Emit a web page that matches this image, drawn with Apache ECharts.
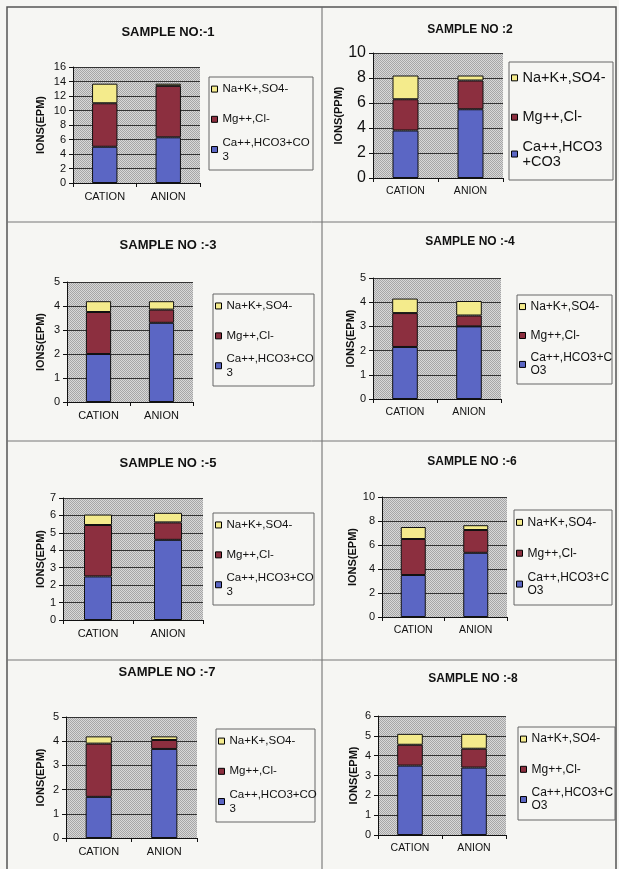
<!DOCTYPE html>
<html>
<head>
<meta charset="utf-8">
<script src="https://cdn.jsdelivr.net/npm/echarts@6/dist/echarts.min.js"></script>
<style>
html,body{margin:0;padding:0;background:#f6f6f3;}
#c{width:619px;height:869px;}
</style>
</head>
<body>
<div id="c"></div>
<script>
// ---- data ----
const sampleTitles = ['SAMPLE NO:-1','SAMPLE NO :2','SAMPLE NO :-3','SAMPLE NO :-4','SAMPLE NO :-5','SAMPLE NO :-6','SAMPLE NO :-7','SAMPLE NO :-8'];
const categories = ['CATION','ANION'];
const seriesNames = ['Ca++,HCO3+CO3','Mg++,Cl-','Na+K+,SO4-'];
const caHco3Values = [[5.0,6.3],[3.8,5.5],[2.0,3.3],[2.15,3.0],[2.5,4.6],[3.5,5.35],[1.7,3.68],[3.5,3.4]];
const mgClValues   = [[6.0,7.1],[2.5,2.3],[1.75,0.55],[1.4,0.45],[2.95,1.0],[3.0,1.9],[2.2,0.37],[1.05,0.95]];
const naSo4Values  = [[2.7,0.3],[1.9,0.4],[0.45,0.35],[0.6,0.6],[0.6,0.55],[1.0,0.4],[0.3,0.15],[0.55,0.75]];
const yMaxValues = [16,10,5,5,7,10,5,6];
const yIntervals = [2,2,1,1,1,2,1,1];
const yAxisTitles = ['IONS(EPM)','IONS(PPM)','IONS(EPM)','IONS(EPM)','IONS(EPM)','IONS(EPM)','IONS(EPM)','IONS(EPM)'];
const caLegendLines = [['Ca++,HCO3+CO','3'],['Ca++,HCO3','+CO3'],['Ca++,HCO3+CO','3'],['Ca++,HCO3+C','O3'],
                       ['Ca++,HCO3+CO','3'],['Ca++,HCO3+C','O3'],['Ca++,HCO3+CO','3'],['Ca++,HCO3+C','O3']];

// ---- layout (page pixels) ----
const panels = [
 {grid:[73,67,127,116],  box:[209,77,313,170],  title:[168,32],  nameX:40,  tick:11, leg:11.5, lh:14, cat:11,   tfs:13},
 {grid:[373,53,130,125], box:[509,62,613,180],  title:[470,30],  nameX:342, tick:16, leg:14.5, lh:15, cat:10.5, tfs:12},
 {grid:[67,282,126,120], box:[213,294,314,386], title:[168,245], nameX:40,  tick:11, leg:11.5, lh:14, cat:11,   tfs:13},
 {grid:[373,278,128,121],box:[517,295,612,384], title:[470,242], nameX:353, tick:11, leg:12,   lh:13, cat:10.5, tfs:12},
 {grid:[63,498,140,122], box:[213,513,314,605], title:[168,463], nameX:40,  tick:11, leg:11.5, lh:14, cat:11,   tfs:13},
 {grid:[382,497,125,120],box:[514,510,612,605], title:[472,462], nameX:353, tick:11, leg:12,   lh:13, cat:10.5, tfs:12},
 {grid:[66,717,131,121], box:[216,729,315,822], title:[167,672], nameX:40,  tick:11, leg:11.5, lh:14, cat:11,   tfs:13},
 {grid:[378,716,128,119],box:[518,727,615,820], title:[473,679], nameX:353, tick:11, leg:12,   lh:13, cat:10.5, tfs:12}
];
const colors = ['#5b66c4','#8c2f3f','#f4eb8c'];
const FONT = '"Liberation Sans", Arial, sans-serif';

function ditherPattern(){
  const c = document.createElement('canvas');
  c.width = 2; c.height = 2;
  const g = c.getContext('2d');
  g.fillStyle = '#d8d8d8'; g.fillRect(0,0,2,2);
  g.fillStyle = '#a6a6a6'; g.fillRect(0,0,1,1); g.fillRect(1,1,1,1);
  return {image: c, repeat: 'repeat'};
}
const pattern = ditherPattern();

const grids=[], xAxes=[], yAxes=[], series=[], legends=[], graphics=[];

// page frame
graphics.push({type:'rect', shape:{x:7,y:7,width:609,height:870}, style:{fill:'none', stroke:'#555', lineWidth:1.5}, silent:true});
graphics.push({type:'line', shape:{x1:322,y1:7,x2:322,y2:869}, style:{stroke:'#666', lineWidth:1}, silent:true});
[222,441,660].forEach(y=>graphics.push({type:'line', shape:{x1:7,y1:y,x2:616,y2:y}, style:{stroke:'#777', lineWidth:1}, silent:true}));

panels.forEach((p,i)=>{
  const [gl,gt,gw,gh] = p.grid;
  grids.push({left:gl, top:gt, width:gw, height:gh, show:true, backgroundColor:pattern, borderWidth:0});
  xAxes.push({type:'category', gridIndex:i, data:categories,
    axisLine:{lineStyle:{color:'#111', width:1}},
    axisTick:{show:true, alignWithLabel:false, length:4, lineStyle:{color:'#111'}},
    axisLabel:{fontSize:p.cat, color:'#111', margin:8, fontFamily:FONT},
    splitLine:{show:false}});
  yAxes.push({type:'value', gridIndex:i, min:0, max:yMaxValues[i], interval:yIntervals[i],
    name:yAxisTitles[i], nameLocation:'middle', nameRotate:90,
    nameGap: gl - p.nameX - 6,
    nameTextStyle:{fontSize:11, fontWeight:'bold', color:'#111', fontFamily:FONT},
    axisLine:{show:true, lineStyle:{color:'#111', width:1}},
    axisTick:{show:true, length:4, lineStyle:{color:'#111'}},
    axisLabel:{fontSize:p.tick, color:'#111', margin:7, fontFamily:FONT},
    splitLine:{show:true, lineStyle:{color:'#333', width:1}}});
  const vals = [caHco3Values[i], mgClValues[i], naSo4Values[i]];
  vals.forEach((v,k)=>{
    series.push({type:'bar', name:seriesNames[k], xAxisIndex:i, yAxisIndex:i, stack:'s'+i,
      data:v, barWidth:'40%', itemStyle:{color:colors[k], borderColor:'#111', borderWidth:1},
      emphasis:{disabled:true}, animation:false});
  });
  // legend box
  const [bx1,by1,bx2,by2] = p.box; const bh = by2-by1;
  graphics.push({type:'rect', shape:{x:bx1,y:by1,width:bx2-bx1,height:bh}, style:{fill:'none', stroke:'#666', lineWidth:1}, silent:true});
  const naC = by1 + 0.13*bh, mgC = by1 + 0.455*bh, caC = by1 + 0.78*bh;
  const common = {orient:'vertical', left:bx1+2, padding:0, icon:'rect', itemWidth:6, itemHeight:6,
    selectedMode:false, itemStyle:{borderColor:'#000', borderWidth:1}};
  legends.push(Object.assign({}, common, {data:[seriesNames[2], seriesNames[1]], top:naC-7,
    itemGap:(mgC-naC)-14, textStyle:{fontSize:p.leg, lineHeight:14, color:'#111', fontFamily:FONT}}));
  legends.push(Object.assign({}, common, {data:[seriesNames[0]], top:caC-1.5*p.lh,
    formatter:()=>caLegendLines[i].join('\n'),
    textStyle:{fontSize:p.leg, lineHeight:p.lh, padding:[p.lh,0,0,0], color:'#111', fontFamily:FONT}}));
  // title
  graphics.push({type:'text', x:p.title[0], y:p.title[1], silent:true,
    style:{text:sampleTitles[i], align:'center', verticalAlign:'middle', fill:'#111',
      font:'bold '+p.tfs+'px "Liberation Sans", Arial, sans-serif'}});
});

const chart = echarts.init(document.getElementById('c'), null, {renderer:'canvas'});
chart.setOption({
  animation:false,
  textStyle:{fontFamily:FONT},
  grid:grids, xAxis:xAxes, yAxis:yAxes, series:series, legend:legends,
  graphic:graphics
});
</script>
</body>
</html>
